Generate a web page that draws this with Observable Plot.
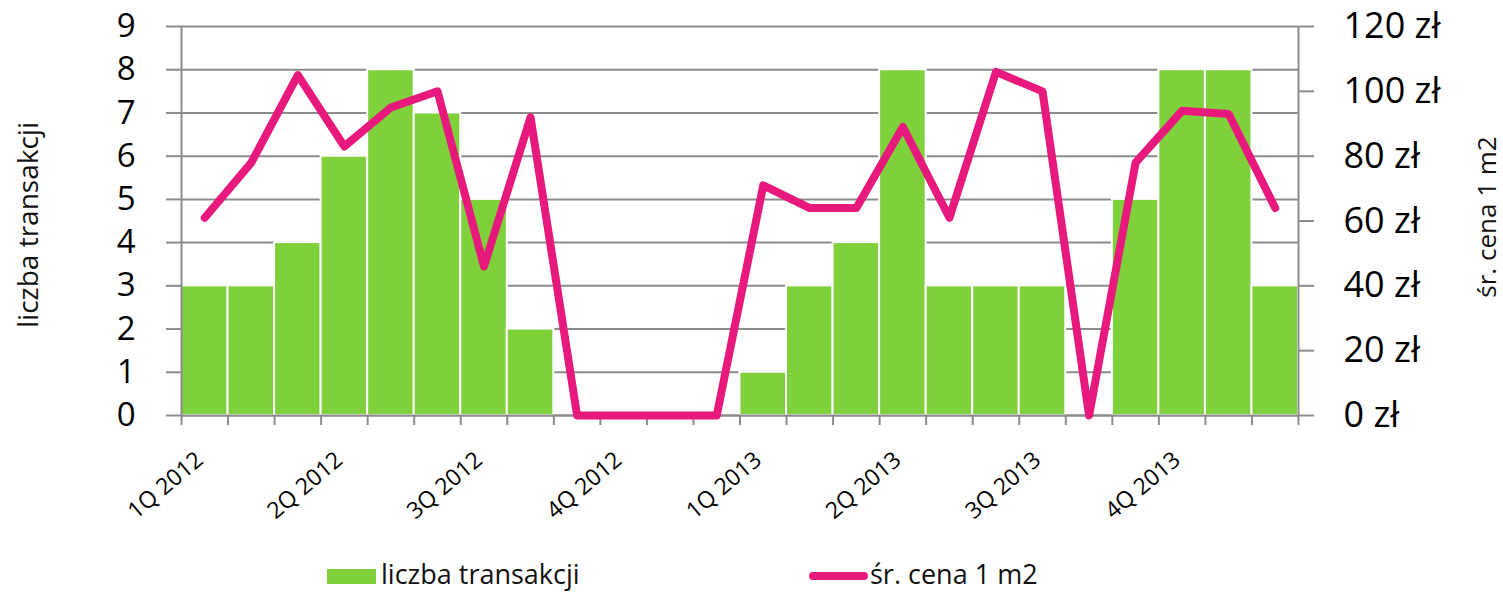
<!DOCTYPE html>
<html>
<head>
<meta charset="utf-8">
<script src="https://cdn.jsdelivr.net/npm/d3@7"></script>
<script src="https://cdn.jsdelivr.net/npm/@observablehq/plot@0.6"></script>
<style>
  html, body { margin: 0; padding: 0; background: #fff; }
  body { width: 1503px; height: 593px; overflow: hidden; font-family: "Open Sans", sans-serif; }
  #legend { position: relative; width: 1503px; height: 48px; }
  .sw-bar { position: absolute; left: 327px; top: 24px; width: 49px; height: 15px; background: #7FD13B; }
  .sw-line { position: absolute; left: 809px; top: 27px; width: 59px; height: 8px; border-radius: 4px; background: #E8197D; }
  .lt { position: absolute; top: 11px; font-size: 27px; line-height: 36px; color: #111; white-space: nowrap; }
</style>
</head>
<body>
<div id="chart"></div>
<div id="legend">
  <div class="sw-bar"></div><div class="lt" style="left:381px">liczba transakcji</div>
  <div class="sw-line"></div><div class="lt" style="left:870px">śr. cena 1 m2</div>
</div>
<script>
// ---- data ----
const quarterLabels = ["1Q 2012","2Q 2012","3Q 2012","4Q 2012","1Q 2013","2Q 2013","3Q 2013","4Q 2013"];
const counts = [3,3,4,6,8,7,5,2,0,0,0,0,1,3,4,8,3,3,3,0,5,8,8,3];
const prices = [61,78,105,83,95,100,46,92,0,0,0,0,71,64,64,89,61,106,100,0,78,94,93,64];
const countTicks = [0,1,2,3,4,5,6,7,8,9];
const priceTicks = [0,20,40,60,80,100,120];
const yTitle = "liczba transakcji";
const y2Title = "śr. cena 1 m2";

const k = 9 / 120; // price -> count axis
const green = "#7FD13B", pink = "#E8197D", grid = "#8c8c8c";

const bars = counts.map((v, i) => ({i, v}));
const pts = prices.map((p, i) => ({i, p}));
const qlab = quarterLabels.map((q, j) => ({q, x: j * 3}));

const chart = Plot.plot({
  width: 1503,
  height: 545,
  marginLeft: 181,
  marginRight: 205,
  marginTop: 26,
  marginBottom: 130,
  style: {fontFamily: "'Open Sans', sans-serif", color: "#000", background: "#fff", overflow: "visible"},
  x: {type: "linear", domain: [0, 24]},
  y: {type: "linear", domain: [0, 9]},
  marks: [
    Plot.ruleY(countTicks, {stroke: grid, strokeWidth: 2}),
    Plot.rect(bars, {x1: d => d.i, x2: d => d.i + 1, y1: 0, y2: d => d.v, fill: green, stroke: "#fff", strokeWidth: 2}),
    Plot.ruleX([0, 24], {stroke: grid, strokeWidth: 2}),
    Plot.ruleY([0], {stroke: grid, strokeWidth: 2}),
    Plot.axisY({ticks: countTicks, tickSize: 15, tickPadding: 31, stroke: grid, strokeWidth: 2, fontSize: 33, label: null, tickFormat: d => String(d)}),
    Plot.axisY({anchor: "right", ticks: priceTicks.map(v => v * k), tickSize: 15, tickPadding: 30, stroke: grid, strokeWidth: 2, fontSize: 36, label: null, tickFormat: d => Math.round(d / k) + " zł"}),
    Plot.axisX({ticks: d3.range(0, 25), tickSize: 10, stroke: grid, strokeWidth: 2, tickFormat: () => "", label: null}),
    Plot.line(pts, {x: d => d.i + 0.5, y: d => d.p * k, stroke: pink, strokeWidth: 8, strokeLinejoin: "round", strokeLinecap: "round"}),
    Plot.text(qlab, {x: "x", y: 0, text: "q", dx: -16, dy: 70, rotate: -40, textAnchor: "middle", lineAnchor: "middle", fontSize: 23, fill: "#000"}),
    Plot.text([yTitle], {frameAnchor: "left", textAnchor: "middle", lineAnchor: "middle", dx: -152, dy: 4, rotate: -90, fontSize: 28, fill: "#111"}),
    Plot.text([y2Title], {frameAnchor: "right", textAnchor: "middle", lineAnchor: "middle", dx: 189, dy: -4, rotate: -90, fontSize: 26, fill: "#111"})
  ]
});
document.getElementById("chart").appendChild(chart);
</script>
</body>
</html>
